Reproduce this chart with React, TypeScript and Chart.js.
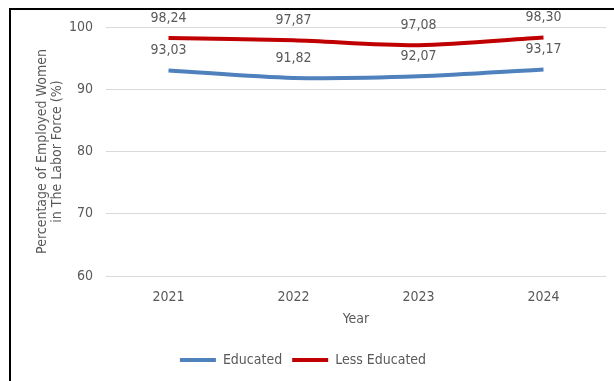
import React, { useEffect, useRef } from "react";
import { Chart, registerables } from "chart.js";

Chart.register(...registerables);

const years = ["2021", "2022", "2023", "2024"];
const educated = [93.03, 91.82, 92.07, 93.17];
const lessEducated = [98.24, 97.87, 97.08, 98.3];
const yTicks = [60, 70, 80, 90, 100];

const FONT = "'Liberation Sans Narrow', 'Arial Narrow', 'DejaVu Sans Condensed', sans-serif";
const GRAY = "#595959";

const labelPlugin = {
  id: "valueLabels",
  afterDatasetsDraw(chart: any) {
    const ctx = chart.ctx;
    ctx.save();
    ctx.font = `14px ${FONT}`;
    ctx.fillStyle = GRAY;
    ctx.textAlign = "center";
    ctx.textBaseline = "middle";
    chart.data.datasets.forEach((ds: any, i: number) => {
      const meta = chart.getDatasetMeta(i);
      meta.data.forEach((pt: any, j: number) => {
        const v = ds.data[j] as number;
        ctx.fillText(v.toFixed(2).replace(".", ","), pt.x, pt.y - 20);
      });
    });
    ctx.restore();
  },
};

export default function App() {
  const ref = useRef<HTMLCanvasElement>(null);
  useEffect(() => {
    if (!ref.current) return;
    const chart = new Chart(ref.current, {
      type: "line",
      data: {
        labels: years,
        datasets: [
          {
            label: "Educated",
            data: educated,
            borderColor: "#4F81BD",
            backgroundColor: "#4F81BD",
            borderWidth: 4,
            pointRadius: 0,
            tension: 0.3,
          },
          {
            label: "Less Educated",
            data: lessEducated,
            borderColor: "#C00000",
            backgroundColor: "#C00000",
            borderWidth: 4,
            pointRadius: 0,
            tension: 0.3,
          },
        ],
      },
      options: {
        responsive: false,
        animation: false,
        layout: { padding: { left: 0, right: 8, top: 27, bottom: 4 } },
        plugins: {
          tooltip: { enabled: false },
          legend: {
            position: "bottom",
            labels: {
              boxWidth: 36,
              boxHeight: 4,
              padding: 10,
              color: GRAY,
              font: { family: FONT, size: 14 },
              generateLabels: (c: any) =>
                Chart.defaults.plugins.legend.labels
                  .generateLabels(c)
                  .map((l: any) => ({ ...l, lineWidth: 0 })),
            },
          },
        },
        scales: {
          x: {
            offset: true,
            grid: { display: false },
            border: { display: false },
            ticks: { color: GRAY, font: { family: FONT, size: 14 }, padding: 5 },
            title: {
              display: true,
              text: "Year",
              color: GRAY,
              font: { family: FONT, size: 14 },
              padding: { top: 0, bottom: 15.6 },
            },
            afterFit: (s: any) => {
              s.height = 67;
            },
          },
          y: {
            min: 60,
            max: 100,
            afterBuildTicks: (s: any) => {
              s.ticks = yTicks.map((v) => ({ value: v }));
            },
            grid: { color: "#D9D9D9", lineWidth: 1, drawTicks: false },
            border: { display: false },
            ticks: { color: GRAY, font: { family: FONT, size: 14 }, padding: 13 },
            title: {
              display: true,
              text: ["Percentage of Employed Women", "in The Labor Force (%)"],
              color: GRAY,
              font: { family: FONT, size: 14, lineHeight: 1.07 },
              padding: { top: 34.5, bottom: 0 },
            },
            afterFit: (s: any) => {
              s.width = 106;
            },
          },
        },
      },
      plugins: [labelPlugin],
    } as any);
    return () => chart.destroy();
  }, []);

  return (
    <div style={{ position: "fixed", left: 0, top: 0, width: 614, height: 381, background: "#fff" }}>
      <canvas ref={ref} width={614} height={381} style={{ position: "absolute", left: 0, top: 0 }} />
      <div
        style={{
          position: "absolute",
          left: 9,
          top: 8,
          right: 0,
          bottom: 0,
          borderTop: "2px solid #000",
          borderLeft: "2px solid #000",
          pointerEvents: "none",
        }}
      />
    </div>
  );
}
